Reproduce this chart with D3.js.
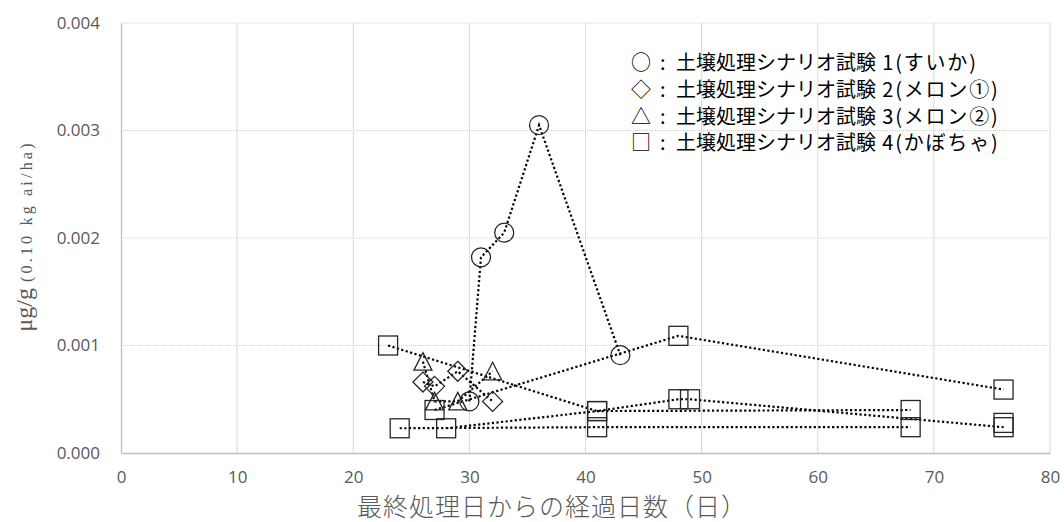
<!DOCTYPE html>
<html>
<head>
<meta charset="utf-8">
<script src="https://cdn.jsdelivr.net/npm/d3@7"></script>
<style>
  body { margin: 0; background: #fff; }
  svg { display: block; }
</style>
</head>
<body>
<svg id="chart"></svg>
<script>
// tick values
const xTicks = [0, 10, 20, 30, 40, 50, 60, 70, 80];
const yTicks = [0, 0.001, 0.002, 0.003, 0.004];

// [days after last treatment, ug/g]
const watermelon = [[30, 0.00048], [31, 0.00182], [33, 0.00205], [36, 0.00305], [43, 0.00091]];
const melon1 = [[26, 0.00066], [27, 0.00062], [29, 0.00076], [32, 0.00048]];
const melon2 = [[26, 0.00085], [27, 0.00048], [29, 0.00048], [32, 0.00076]];
const pumpkinA = [[27, 0.00040], [48, 0.00109], [76, 0.00059]];
const pumpkinB = [[23, 0.00100], [41, 0.00039], [48, 0.00050], [49, 0.00050], [76, 0.00024]];
const pumpkinC = [[28, 0.00023], [41, 0.00039], [68, 0.00040]];
const pumpkinD = [[24, 0.00023], [41, 0.00024], [68, 0.00024]];
const pumpkinE = [[76, 0.00028]];

const legendSymbols = ["○", "◇", "△", "□"];
const legendNames = ["土壌処理シナリオ試験", "土壌処理シナリオ試験", "土壌処理シナリオ試験", "土壌処理シナリオ試験"];
const legendTails = [" 1(すいか)", " 2(メロン①)", " 3(メロン②)", " 4(かぼちゃ)"];

const series = [
  {shape: "circle", pts: watermelon},
  {shape: "diamond", pts: melon1},
  {shape: "triangle", pts: melon2},
  {shape: "square", pts: pumpkinA},
  {shape: "square", pts: pumpkinB},
  {shape: "square", pts: pumpkinC},
  {shape: "square", pts: pumpkinD},
  {shape: "square", pts: pumpkinE}
];

const W = 1064, H = 522;
const margin = {top: 23, right: 14, bottom: 69, left: 121};
const width = W - margin.left - margin.right,
      height = H - margin.top - margin.bottom;

const svg = d3.select("#chart").attr("width", W).attr("height", H);
const g = svg.append("g").attr("transform", `translate(${margin.left},${margin.top})`);

const x = d3.scaleLinear().domain([0, 80]).range([0, width]);
const y = d3.scaleLinear().domain([0, 0.004]).range([height, 0]);

const grey = "#595959";

// gridlines
g.selectAll(".hgrid").data(yTicks.slice(1)).join("line")
  .attr("x1", 0).attr("x2", width)
  .attr("y1", d => y(d)).attr("y2", d => y(d))
  .attr("stroke", "#d0d0d0").attr("stroke-width", 1).attr("stroke-dasharray", "1 1");
g.selectAll(".vgrid").data(xTicks.slice(1)).join("line")
  .attr("x1", d => x(d)).attr("x2", d => x(d))
  .attr("y1", 0).attr("y2", height)
  .attr("stroke", "#d9d9d9").attr("stroke-width", 1);

// axes
const xAxis = g.append("g").attr("transform", `translate(0,${height})`)
  .call(d3.axisBottom(x).tickValues(xTicks).tickSize(0).tickPadding(18));
const yAxis = g.append("g")
  .call(d3.axisLeft(y).tickValues(yTicks).tickSize(0).tickPadding(21).tickFormat(d3.format(".3f")));
[xAxis, yAxis].forEach(a => {
  a.select(".domain").attr("stroke", "#bfbfbf").attr("stroke-width", 1.3);
  a.selectAll("text").attr("fill", grey).style("font-family", "'Open Sans', 'Noto Sans', sans-serif").style("font-size", "17px");
});

// dotted lines
const line = d3.line().x(d => x(d[0])).y(d => y(d[1]));
g.selectAll(".series").data(series.filter(s => s.pts.length > 1)).join("path")
  .attr("d", s => line(s.pts))
  .attr("fill", "none").attr("stroke", "#000").attr("stroke-width", 2.2)
  .attr("stroke-dasharray", "2.2 2.4");

// markers
function marker(sel, shape) {
  if (shape === "circle") {
    sel.append("circle").attr("r", 9.5);
  } else if (shape === "square") {
    sel.append("rect").attr("x", -9.5).attr("y", -9.5).attr("width", 19).attr("height", 19);
  } else if (shape === "diamond") {
    sel.append("path").attr("d", "M0,-10L10,0L0,10L-10,0Z");
  } else {
    sel.append("path").attr("d", "M0,-9L9,8.5L-9,8.5Z");
  }
}
series.forEach(s => {
  s.pts.forEach(p => {
    const m = g.append("g").attr("transform", `translate(${x(p[0])},${y(p[1])})`)
      .attr("fill", "none").attr("stroke", "#262626").attr("stroke-width", 1.3);
    marker(m, s.shape);
  });
});

// legend
const leg = svg.append("g").selectAll("text").data(legendSymbols).join("text")
  .attr("y", (d, i) => 63 + i * 26.7)
  .attr("dy", "0.36em")
  .attr("fill", "#000")
  .style("font-family", "'Noto Sans CJK JP', sans-serif")
  .style("font-size", "20px");
leg.append("tspan").attr("x", 631).text(d => d);
leg.append("tspan").attr("x", 660).text(":");
leg.append("tspan").attr("x", 676).text((d, i) => legendNames[i]);
leg.append("tspan").style("letter-spacing", "1.8px").text((d, i) => legendTails[i]);

// axis titles
svg.append("text")
  .attr("x", 552).attr("y", 516)
  .attr("text-anchor", "middle").attr("fill", grey)
  .style("font-family", "'Noto Sans CJK JP', sans-serif").style("font-weight", 300)
  .style("font-size", "25px").style("letter-spacing", "1px")
  .text("最終処理日からの経過日数（日）");

const yt = svg.append("text")
  .attr("transform", "translate(32,236) rotate(-90)")
  .attr("text-anchor", "middle").attr("fill", grey)
  .style("font-family", "'Liberation Serif', 'DejaVu Serif', serif");
yt.append("tspan").style("font-size", "24px").text("μg/g ");
yt.append("tspan").style("font-size", "16px").style("letter-spacing", "3.2px").text("(0.10 kg ai/ha)");
</script>
</body>
</html>
